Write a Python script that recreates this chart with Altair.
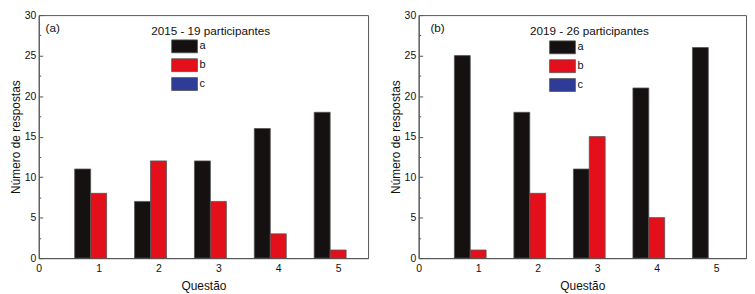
import altair as alt
import pandas as pd

questions = [1, 2, 3, 4, 5]
options = ["a", "b", "c"]
a_2015 = [11, 7, 12, 16, 18]
b_2015 = [8, 12, 7, 3, 1]
c_2015 = [0, 0, 0, 0, 0]
a_2019 = [25, 18, 11, 21, 26]
b_2019 = [1, 8, 15, 5, 0]
c_2019 = [0, 0, 0, 0, 0]
x_ticks = [0, 1, 2, 3, 4, 5]
y_ticks = [0, 5, 10, 15, 20, 25, 30]
y_all_ticks = [0, 2.5, 5, 7.5, 10, 12.5, 15, 17.5, 20, 22.5, 25, 27.5, 30]
colors = ["#141110", "#e3101b", "#2f3c97"]
titles = ["2015 - 19 participantes", "2019 - 26 participantes"]
labels = ["(a)", "(b)"]

FONT = "Liberation Sans"
H = 245
FRAME = "#555555"


def long(a, b, c):
    rows = []
    for i, q in enumerate(questions):
        for k, (opt, vals) in enumerate(zip(options, [a, b, c])):
            rows.append({"q": q, "opt": opt, "k": k, "v": vals[i]})
    return pd.DataFrame(rows)


def panel(a, b, c, label, title, lab_x, W, legend_x, legend_y):
    df = long(a, b, c)
    ann = pd.DataFrame({"x": [lab_x, 2.87], "y": [28.4, 28.0], "t": [label, title]})
    xscale = alt.Scale(domain=[0, 5.5], nice=False, zero=False, padding=0)
    yscale = alt.Scale(domain=[0, 30], nice=False, padding=0)
    x_axis = alt.Axis(values=x_ticks, ticks=False, tickSize=0, labelPadding=5,
                      title="Questão", titlePadding=7, labelFontSize=10.5,
                      titleFontSize=12, grid=False, labelFlush=False)
    bars = alt.Chart(df).transform_filter("datum.v > 0").transform_calculate(
        x0="datum.q - 0.4 + datum.k*0.8/3",
        x1="datum.q - 0.4 + (datum.k+1)*0.8/3",
    ).mark_rect(stroke=FRAME, strokeWidth=0.8, opacity=1).encode(
        x=alt.X("x0:Q", scale=xscale, axis=x_axis),
        x2="x1:Q",
        y=alt.Y("v:Q", scale=yscale,
                axis=alt.Axis(values=y_ticks, orient="left", ticks=False, tickSize=0,
                              labelPadding=3, title="Número de respostas",
                              titlePadding=2, labelFontSize=10.5, titleFontSize=12,
                              grid=False)),
        y2=alt.datum(0),
        color=alt.Color("opt:N", scale=alt.Scale(domain=options, range=colors),
                        legend=alt.Legend(orient="none", legendX=legend_x, legendY=legend_y,
                                          title=None, symbolType="M-2,-1H2V1H-2Z",
                                          symbolSize=169, symbolStrokeColor=FRAME,
                                          symbolStrokeWidth=0.8, labelOffset=8,
                                          rowPadding=1, padding=0, labelFontSize=11,
                                          labelFont=FONT, labelColor="#111")),
    )
    texts = alt.Chart(ann).mark_text(font=FONT, fontSize=11.8, color="#111",
                                     align="center", baseline="middle").encode(
        x=alt.X("x:Q", scale=xscale, axis=x_axis),
        y=alt.Y("y:Q", scale=yscale,
                axis=alt.Axis(orient="right", offset=-W, labels=False, domain=False,
                              title=None, grid=False, values=y_all_ticks,
                              tickColor=FRAME, tickWidth=1,
                              tickSize={"condition": {"test": "datum.value % 5 === 0", "value": 4},
                                        "value": 2})),
        text="t:N",
    )
    return alt.layer(bars, texts).resolve_scale(y="shared").resolve_axis(
        y="independent").properties(width=W, height=H)


left = panel(a_2015, b_2015, c_2015, labels[0], titles[0], 0.232, 332, 140, 24.5)
right = panel(a_2019, b_2019, c_2019, labels[1], titles[1], 0.317, 330, 138, 25.5)

chart = alt.hconcat(left, right, spacing=19).resolve_scale(color="independent").resolve_legend(
    color="independent").properties(padding={"left": 0, "top": 0, "right": 0, "bottom": 0}
).configure_view(stroke=FRAME, strokeWidth=1).configure_axis(
    labelFont=FONT, titleFont=FONT, labelColor="#111", titleColor="#111",
    domainColor=FRAME, titleFontWeight="normal")

chart.save("out.html", embed_options={"renderer": "svg", "actions": False})
